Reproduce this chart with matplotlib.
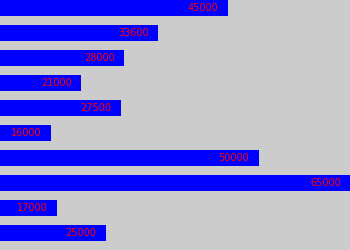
import matplotlib
matplotlib.use("Agg")
import matplotlib.pyplot as plt

values = [45000, 33600, 28000, 21000, 27500, 16000, 50000, 65000, 17000, 25000]
labels = [str(v) for v in values]

BG = "#cccccc"
BAR = "#0000ff"
TXT = "#ff0000"

fig = plt.figure(figsize=(3.5, 2.5), dpi=100)
fig.patch.set_facecolor(BG)
ax = fig.add_axes([0, 0, 1, 1])
ax.set_facecolor(BG)

pos = list(range(len(values)))
ax.barh(pos, values, height=0.64, color=BAR, left=0)
ax.set_xlim(7667, 64977)
ax.set_ylim(9.68, -0.32)

# labels sit inside the bar end, a few px from the right edge
px = (64977 - 7667) / 350.0
for p, v, s in zip(pos, values, labels):
    ax.text(v - 9.5 * px, p, s, ha="right", va="center",
            color=TXT, fontsize=7)

ax.axis("off")
fig.savefig("out.png", dpi=100, facecolor=BG)
